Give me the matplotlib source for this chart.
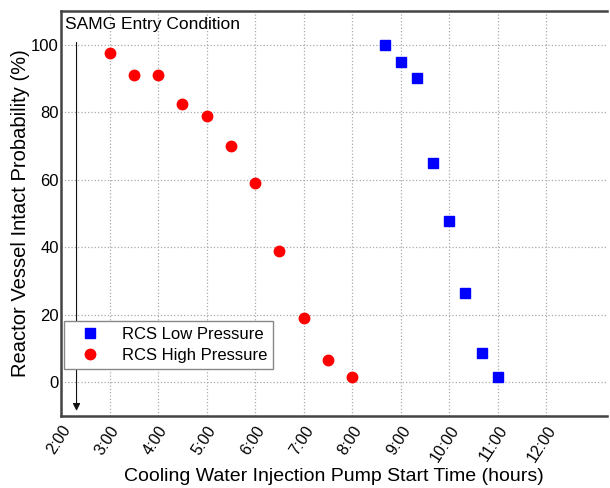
import matplotlib.pyplot as plt
from matplotlib.ticker import FuncFormatter

plt.rcParams['font.family'] = ['Liberation Sans', 'DejaVu Sans']

# pump start time in hours, probability in %
low_time = [8.667, 9.0, 9.333, 9.667, 10.0, 10.333, 10.667, 11.0]
low_prob = [100, 95, 90, 65, 47.8, 26.5, 8.8, 1.5]

high_time = [3.0, 3.5, 4.0, 4.5, 5.0, 5.5, 6.0, 6.5, 7.0, 7.5, 8.0]
high_prob = [97.5, 91, 91, 82.5, 79, 70, 59, 39, 19, 6.5, 1.5]

samg_time = 2.32

x_ticks = list(range(2, 13))
y_ticks = [0, 20, 40, 60, 80, 100]


def hour_label(v, pos):
    return '%d:00' % int(round(v))


fig = plt.figure(figsize=(6.1, 4.88), dpi=100)
ax = fig.add_axes([0.1, 0.1475, 0.895, 0.83])

ax.plot(low_time, low_prob, 's', color='#0000ff', markersize=6.8,
        label='RCS Low Pressure', zorder=3)
ax.plot(high_time, high_prob, 'o', color='#ff0000', markersize=7.5,
        label='RCS High Pressure', zorder=3)

# SAMG entry marker
ax.annotate('', xy=(samg_time, -9.3), xytext=(samg_time, 101.5),
            arrowprops=dict(arrowstyle='-|>', color='#111111', lw=0.8,
                            mutation_scale=11))
ax.text(0.008, 0.985, 'SAMG Entry Condition', transform=ax.transAxes,
        fontsize=12.5, va='top', ha='left')

ax.set_xlim(2, 13.25)
ax.set_ylim(-10, 110)
ax.set_xticks(x_ticks)
ax.set_yticks(y_ticks)
ax.xaxis.set_major_formatter(FuncFormatter(hour_label))
ax.tick_params(axis='y', length=0, labelsize=12, pad=1.5)
ax.tick_params(axis='x', length=0, labelsize=11.5, pad=5)
plt.setp(ax.get_xticklabels(), rotation=57, ha='right', rotation_mode='anchor')

ax.grid(True, color='#aaaaaa', linestyle=':', linewidth=0.9)

for side in ['left', 'bottom', 'top']:
    ax.spines[side].set_color('#444444')
    ax.spines[side].set_linewidth(1.8)
ax.spines['right'].set_visible(False)

fig.text(0.548, 0.024, 'Cooling Water Injection Pump Start Time (hours)',
         fontsize=14, ha='center', va='center')
ax.set_ylabel('Reactor Vessel Intact Probability (%)', fontsize=14.5,
              labelpad=1)

leg = ax.legend(loc='lower left', bbox_to_anchor=(0.0, 0.108), fontsize=12,
                fancybox=False, framealpha=1, edgecolor='#888888',
                borderpad=0.35, borderaxespad=0.2, handletextpad=0.7,
                labelspacing=0.35, handlelength=2.4)
leg.get_frame().set_linewidth(1.0)

fig.savefig('out.png', dpi=100)
